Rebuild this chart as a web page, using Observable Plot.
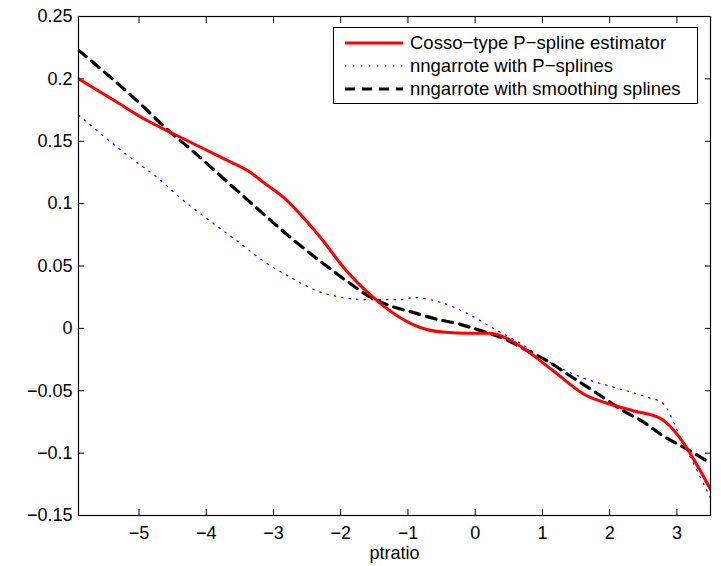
<!DOCTYPE html>
<html>
<head>
<meta charset="utf-8">
<script src="https://cdn.jsdelivr.net/npm/d3@7"></script>
<script src="https://cdn.jsdelivr.net/npm/@observablehq/plot@0.6"></script>
<style>
  html, body { margin: 0; padding: 0; background: #fff; }
  #wrap { position: relative; width: 721px; height: 566px; font-family: "Liberation Sans", Arial, sans-serif; }
  #legend { position: absolute; left: 333px; top: 27px; width: 365px; height: 77px; border: 1px solid #000; background: #fff; box-sizing: border-box; }
  .row { position: absolute; left: 0; height: 22px; display: flex; align-items: center; font-size: 18.5px; color: #000; white-space: nowrap; }
  .row svg { margin-left: 11px; margin-right: 7px; }
</style>
</head>
<body>
<div id="wrap"></div>
<script>
const seriesNames = ["Cosso\u2212type P\u2212spline estimator", "nngarrote with P\u2212splines", "nngarrote with smoothing splines"];

const cossoX = [-5.9, -5.38, -4.88, -4.49, -3.74, -3.34, -3.15, -2.85, -2.56, -2.26, -1.96, -1.52, -1.12, -0.82, -0.48, -0.08, 0.22, 0.47, 0.77, 1.16, 1.66, 1.96, 2.35, 2.75, 3.5];
const cossoY = [0.200, 0.183, 0.1666, 0.156, 0.136, 0.125, 0.117, 0.105, 0.089, 0.070, 0.049, 0.025, 0.0087, 0.0007, -0.003, -0.004, -0.004, -0.008, -0.018, -0.034, -0.054, -0.060, -0.066, -0.072, -0.129];

const pspX = [-5.9, -5.68, -5.13, -4.73, -4.34, -3.94, -3.54, -3.15, -2.75, -2.35, -1.96, -1.56, -1.12, -0.92, -0.52, -0.12, 0.27, 0.67, 1.07, 1.57, 2.05, 2.55, 2.79, 3.05, 3.5];
const pspY = [0.171, 0.161, 0.137, 0.121, 0.1025, 0.086, 0.070, 0.054, 0.041, 0.030, 0.0247, 0.023, 0.023, 0.0247, 0.021, 0.012, 0.0, -0.012, -0.026, -0.039, -0.047, -0.055, -0.060, -0.087, -0.136];

const smoothX = [-5.9, -4.98, -4.53, -4.24, -3.74, -3.24, -2.75, -2.26, -1.86, -1.56, -1.26, -0.92, -0.62, -0.22, 0.07, 0.42, 0.71, 1.07, 1.41, 1.81, 2.20, 2.50, 2.79, 3.09, 3.5];
const smoothY = [0.223, 0.180, 0.157, 0.144, 0.120, 0.096, 0.073, 0.052, 0.036, 0.025, 0.018, 0.0127, 0.008, 0.0032, -0.0016, -0.008, -0.016, -0.026, -0.038, -0.052, -0.066, -0.075, -0.086, -0.095, -0.108];

const xTicks = [-5, -4, -3, -2, -1, 0, 1, 2, 3];
const yTicks = [-0.15, -0.1, -0.05, 0, 0.05, 0.1, 0.15, 0.2, 0.25];
const yTickLabels = ["\u22120.15", "\u22120.1", "\u22120.05", "0", "0.05", "0.1", "0.15", "0.2", "0.25"];
const xTickLabels = ["\u22125", "\u22124", "\u22123", "\u22122", "\u22121", "0", "1", "2", "3"];

const toRows = (xs, ys) => xs.map((x, i) => ({x, y: ys[i]}));
const cosso = toRows(cossoX, cossoY);
const psp = toRows(pspX, pspY);
const smooth = toRows(smoothX, smoothY);

const fmtX = d => xTickLabels[xTicks.indexOf(d)] ?? "";
const fmtY = d => { const i = yTicks.findIndex(t => Math.abs(t - d) < 1e-9); return i >= 0 ? yTickLabels[i] : ""; };
const none = () => "";
const TK = 6;

const chart = Plot.plot({
  width: 721,
  height: 566,
  marginLeft: 78,
  marginRight: 11,
  marginTop: 16,
  marginBottom: 51,
  style: { fontFamily: "'Liberation Sans', Arial, sans-serif", fontSize: "18px", color: "#000", background: "#fff" },
  x: { domain: [-5.9, 3.5] },
  y: { domain: [-0.15, 0.25] },
  marks: [
    Plot.axisX({ anchor: "bottom", ticks: xTicks, tickFormat: fmtX, tickSize: 0, tickPadding: 11, fontSize: 18, label: "ptratio", labelAnchor: "center", labelArrow: "none", labelOffset: 43 }),
    Plot.axisY({ anchor: "left", ticks: yTicks, tickFormat: fmtY, tickSize: 0, tickPadding: 6, fontSize: 18, label: null }),
    Plot.axisX({ anchor: "bottom", ticks: xTicks, tickFormat: none, tickSize: TK, dy: -TK, label: null }),
    Plot.axisX({ anchor: "top", ticks: xTicks, tickFormat: none, tickSize: TK, dy: TK, label: null }),
    Plot.axisY({ anchor: "left", ticks: yTicks, tickFormat: none, tickSize: TK, dx: TK, label: null }),
    Plot.axisY({ anchor: "right", ticks: yTicks, tickFormat: none, tickSize: TK, dx: -TK, label: null }),
    Plot.line(psp, { x: "x", y: "y", stroke: "#0000ff", strokeWidth: 1.2, strokeDasharray: "1.5,6", curve: "monotone-x", clip: true }),
    Plot.line(smooth, { x: "x", y: "y", stroke: "#000", strokeWidth: 3.2, strokeDasharray: "10,7", curve: "monotone-x", clip: true }),
    Plot.line(cosso, { x: "x", y: "y", stroke: "#ff0000", strokeWidth: 3, curve: "monotone-x", clip: true }),
    Plot.frame({ stroke: "#000", strokeWidth: 1.2 })
  ]
});

const wrap = document.getElementById("wrap");
wrap.appendChild(chart);

const legend = document.createElement("div");
legend.id = "legend";
const swatches = [
  '<svg width="58" height="6"><line x1="0" y1="3" x2="58" y2="3" stroke="#ff0000" stroke-width="3"/></svg>',
  '<svg width="58" height="6"><line x1="0" y1="3" x2="58" y2="3" stroke="#0000ff" stroke-width="1.2" stroke-dasharray="1.5,6.5"/></svg>',
  '<svg width="58" height="6"><line x1="0" y1="3" x2="58" y2="3" stroke="#000" stroke-width="3.2" stroke-dasharray="10,7"/></svg>'
];
seriesNames.forEach((name, i) => {
  const row = document.createElement("div");
  row.className = "row";
  row.style.top = (4 + i * 23) + "px";
  row.innerHTML = swatches[i] + "<span>" + name + "</span>";
  legend.appendChild(row);
});
wrap.appendChild(legend);
</script>
</body>
</html>
